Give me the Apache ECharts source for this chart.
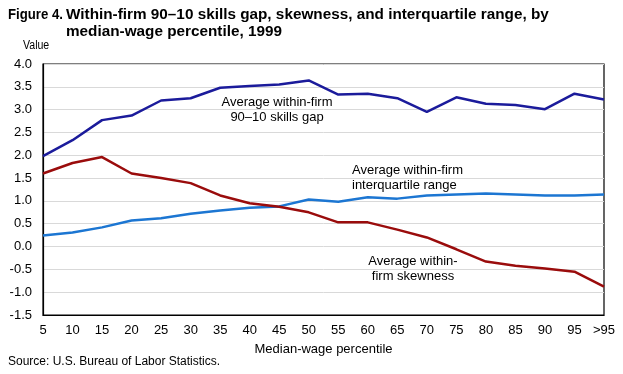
<!DOCTYPE html>
<html><head><meta charset="utf-8">
<script src="https://cdn.jsdelivr.net/npm/echarts@6/dist/echarts.min.js"></script>
<style>html,body{margin:0;padding:0;background:#fff}#c{width:623px;height:374px}</style>
</head><body><div id="c"></div>
<script>
const categories = ['5','10','15','20','25','30','35','40','45','50','55','60','65','70','75','80','85','90','95','>95'];
const skillsGap = [1.98,2.33,2.77,2.87,3.2,3.25,3.48,3.52,3.55,3.64,3.33,3.35,3.25,2.95,3.27,3.13,3.1,3.01,3.35,3.22];
const interquartile = [0.24,0.31,0.42,0.57,0.62,0.72,0.79,0.85,0.88,1.03,0.98,1.08,1.05,1.12,1.14,1.16,1.14,1.12,1.12,1.14];
const skewness = [1.6,1.83,1.96,1.6,1.5,1.39,1.12,0.95,0.87,0.75,0.53,0.53,0.37,0.2,-0.06,-0.33,-0.42,-0.48,-0.55,-0.88];
const yTicks = {min:-1.5,max:4.0,interval:0.5};

const FONT = '"Liberation Sans",Arial,sans-serif';
const chart = echarts.init(document.getElementById('c'));
chart.setOption({
  animation:false,
  textStyle:{fontFamily:FONT},
  grid:{left:43,right:19,top:64,bottom:59,show:true,borderColor:'#000',borderWidth:1.2,backgroundColor:'transparent'},
  xAxis:{type:'category',data:categories,boundaryGap:false,
    axisLine:{onZero:false,lineStyle:{color:'#000',width:1.2}},axisTick:{show:false},
    axisLabel:{color:'#000',fontSize:13,fontFamily:FONT,margin:9,interval:0},
    name:'Median-wage percentile',nameLocation:'middle',nameGap:28,
    nameTextStyle:{color:'#000',fontSize:13,fontFamily:FONT}},
  yAxis:{type:'value',min:yTicks.min,max:yTicks.max,interval:yTicks.interval,
    axisLine:{show:true,lineStyle:{color:'#000',width:1.2}},axisTick:{show:false},
    splitLine:{lineStyle:{color:'#d9d9d9',width:1}},
    axisLabel:{color:'#000',fontSize:13,fontFamily:FONT,margin:11,formatter:v=>v.toFixed(1)}},
  series:[
    {type:'line',data:skillsGap,symbol:'none',lineStyle:{color:'#1b1b9b',width:2.5},z:3},
    {type:'line',data:interquartile,symbol:'none',lineStyle:{color:'#1c76d2',width:2.5},z:2},
    {type:'line',data:skewness,symbol:'none',lineStyle:{color:'#9a0c0c',width:2.5},z:4}
  ],
  graphic:[
    {type:'text',x:8,y:15,scaleX:0.88,style:{text:'Figure 4.',font:'bold 15px '+FONT,fill:'#000',verticalAlign:'middle'}},
    {type:'text',x:66,y:15,scaleX:1.02,style:{text:'Within-firm 90–10 skills gap, skewness, and interquartile range, by',font:'bold 15px '+FONT,fill:'#000',verticalAlign:'middle'}},
    {type:'text',x:66,y:32,scaleX:1.02,style:{text:'median-wage percentile, 1999',font:'bold 15px '+FONT,fill:'#000',verticalAlign:'middle'}},
    {type:'text',x:23,y:46,scaleX:0.88,style:{text:'Value',font:'12px '+FONT,fill:'#000',verticalAlign:'middle'}},
    {type:'text',x:277,y:110,style:{text:'Average within-firm\n90–10 skills gap',font:'13px '+FONT,lineHeight:15,fill:'#000',align:'center',verticalAlign:'middle'}},
    {type:'text',x:352,y:177.5,style:{text:'Average within-firm\ninterquartile range',font:'13px '+FONT,lineHeight:15,fill:'#000',align:'left',verticalAlign:'middle'}},
    {type:'text',x:413,y:269,style:{text:'Average within-\nfirm skewness',font:'13px '+FONT,lineHeight:15,fill:'#000',align:'center',verticalAlign:'middle'}},
    {type:'text',x:8,y:362,style:{text:'Source: U.S. Bureau of Labor Statistics.',font:'12px '+FONT,fill:'#000',verticalAlign:'middle'}}
  ]
});
</script></body></html>
